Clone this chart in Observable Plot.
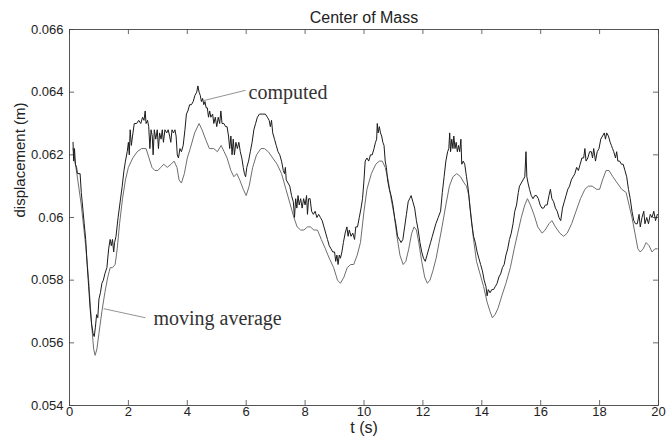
<!DOCTYPE html>
<html>
<head>
<meta charset="utf-8">
<script src="https://cdn.jsdelivr.net/npm/d3@7"></script>
<script src="https://cdn.jsdelivr.net/npm/@observablehq/plot@0.6"></script>
<style>
  html, body { margin: 0; padding: 0; background: #fff; }
</style>
</head>
<body>
<div id="chart"></div>
<script>
// Center-of-mass displacement (m) against time (s)
const computedT = [
  0.12, 0.14, 0.17, 0.20, 0.24, 0.27, 0.36, 0.40, 0.45, 0.50, 0.55, 0.60, 0.65, 0.70, 0.75, 0.80, 0.84, 0.88, 0.92, 0.96,
  1.00, 1.05, 1.10, 1.15, 1.20, 1.27, 1.33, 1.38, 1.42, 1.46, 1.50, 1.53, 1.58, 1.65, 1.72, 1.79, 1.85, 1.90, 1.96,
  2.00, 2.03, 2.06, 2.10, 2.14, 2.20, 2.28, 2.35, 2.42, 2.48, 2.53, 2.57, 2.60, 2.65, 2.69, 2.73, 2.77, 2.81, 2.84, 2.88, 2.93, 2.98,
  3.02, 3.06, 3.11, 3.15, 3.19, 3.24, 3.30, 3.35, 3.40, 3.44, 3.48, 3.53, 3.58, 3.62, 3.66, 3.70, 3.75, 3.80, 3.86, 3.92, 3.97,
  4.02, 4.08, 4.14, 4.20, 4.26, 4.32, 4.36, 4.40, 4.44, 4.48, 4.52, 4.56, 4.60, 4.64, 4.68, 4.72, 4.76, 4.80, 4.86, 4.90, 4.95,
  5.00, 5.05, 5.10, 5.14, 5.18, 5.24, 5.30, 5.35, 5.40, 5.44, 5.48, 5.52, 5.56, 5.60, 5.65, 5.70, 5.75, 5.80, 5.85, 5.90, 5.94, 5.98,
  6.02, 6.08, 6.14, 6.20, 6.26, 6.32, 6.38, 6.45, 6.55, 6.65, 6.72, 6.78, 6.82, 6.86, 6.90, 6.96,
  7.02, 7.08, 7.14, 7.20, 7.26, 7.30, 7.33, 7.36, 7.42, 7.48, 7.54, 7.60, 7.64, 7.68, 7.72, 7.76, 7.80, 7.85, 7.90, 7.95,
  8.00, 8.05, 8.08, 8.12, 8.17, 8.22, 8.28, 8.34, 8.40, 8.46, 8.52, 8.58, 8.64, 8.70, 8.76, 8.82, 8.88, 8.94,
  9.00, 9.04, 9.08, 9.12, 9.16, 9.20, 9.25, 9.30, 9.36, 9.42, 9.46, 9.50, 9.56, 9.62, 9.68, 9.72, 9.78, 9.84, 9.90, 9.95,
  10.00, 10.04, 10.10, 10.16, 10.22, 10.28, 10.34, 10.39, 10.43, 10.45, 10.48, 10.52, 10.56, 10.60, 10.64, 10.68, 10.72, 10.76, 10.80, 10.86, 10.92, 10.98,
  11.04, 11.08, 11.14, 11.20, 11.26, 11.32, 11.38, 11.44, 11.50, 11.55, 11.60, 11.66, 11.72, 11.78, 11.84, 11.90, 11.96,
  12.02, 12.08, 12.14, 12.20, 12.26, 12.32, 12.38, 12.44, 12.52, 12.60, 12.66, 12.72, 12.78, 12.84, 12.88, 12.91, 12.94, 12.98,
  13.02, 13.05, 13.09, 13.13, 13.17, 13.21, 13.25, 13.29, 13.32, 13.37, 13.42, 13.48, 13.54, 13.60, 13.66, 13.72, 13.78, 13.84, 13.90, 13.96,
  14.02, 14.08, 14.14, 14.18, 14.22, 14.28, 14.34, 14.40, 14.46, 14.52, 14.58, 14.64, 14.70, 14.76, 14.82, 14.88, 14.94,
  15.00, 15.06, 15.12, 15.18, 15.24, 15.28, 15.34, 15.40, 15.46, 15.50, 15.53, 15.57, 15.62, 15.68, 15.74, 15.80, 15.86, 15.92, 15.98,
  16.04, 16.10, 16.16, 16.22, 16.28, 16.33, 16.38, 16.44, 16.50, 16.56, 16.62, 16.68, 16.74, 16.80, 16.86, 16.92, 16.98,
  17.04, 17.10, 17.16, 17.22, 17.28, 17.34, 17.40, 17.46, 17.50, 17.54, 17.60, 17.66, 17.72, 17.76, 17.80, 17.86, 17.92, 17.98,
  18.04, 18.10, 18.16, 18.20, 18.24, 18.30, 18.36, 18.40, 18.44, 18.48, 18.54, 18.58, 18.62, 18.68, 18.74, 18.80, 18.86, 18.92, 18.98,
  19.04, 19.10, 19.16, 19.22, 19.28, 19.34, 19.38, 19.44, 19.50, 19.54, 19.60, 19.66, 19.72, 19.78, 19.84, 19.90, 19.96
];
const computedV = [
  0.0624, 0.0618, 0.0622, 0.0617, 0.0616, 0.0614, 0.0614, 0.0608, 0.0603, 0.0598, 0.0593, 0.0585, 0.0578, 0.0571, 0.0566, 0.0563, 0.0562, 0.0565, 0.0569, 0.0568,
  0.0574, 0.0576, 0.0579, 0.0580, 0.0582, 0.0584, 0.0590, 0.0593, 0.0591, 0.0593, 0.0589, 0.0592, 0.0594, 0.0600, 0.0605, 0.0610, 0.0615, 0.0618, 0.0621,
  0.0624, 0.0620, 0.0628, 0.0623, 0.0626, 0.0630, 0.0630, 0.0631, 0.0630, 0.0632, 0.0631, 0.0634, 0.0630, 0.0631, 0.0629, 0.0622, 0.0628, 0.0626, 0.0620, 0.0628, 0.0625, 0.0628,
  0.0622, 0.0627, 0.0625, 0.0628, 0.0624, 0.0628, 0.0627, 0.0628, 0.0626, 0.0624, 0.0628, 0.0627, 0.0628, 0.0626, 0.0620, 0.0619, 0.0622, 0.0621, 0.0623, 0.0628, 0.0633,
  0.0634, 0.0636, 0.0636, 0.0637, 0.0639, 0.0640, 0.0642, 0.0640, 0.0639, 0.0637, 0.0638, 0.0636, 0.0637, 0.0635, 0.0635, 0.0632, 0.0634, 0.0632, 0.0633, 0.0630, 0.0632,
  0.0629, 0.0632, 0.0630, 0.0634, 0.0630, 0.0630, 0.0629, 0.0629, 0.0626, 0.0622, 0.0626, 0.0620, 0.0625, 0.0620, 0.0624, 0.0622, 0.0624, 0.0621, 0.0619, 0.0616, 0.0614, 0.0613,
  0.0616, 0.0618, 0.0621, 0.0624, 0.0628, 0.0630, 0.0632, 0.0633, 0.0633, 0.0633, 0.0632, 0.0631, 0.0629, 0.0631, 0.0627, 0.0625,
  0.0623, 0.0621, 0.0620, 0.0618, 0.0615, 0.0614, 0.0616, 0.0612, 0.0611, 0.0610, 0.0607, 0.0605, 0.0600, 0.0606, 0.0603, 0.0607, 0.0604, 0.0606, 0.0603, 0.0606,
  0.0604, 0.0607, 0.0601, 0.0606, 0.0606, 0.0602, 0.0601, 0.0602, 0.0600, 0.0601, 0.0600, 0.0599, 0.0597, 0.0595, 0.0593, 0.0591, 0.0590, 0.0589,
  0.0589, 0.0586, 0.0588, 0.0585, 0.0588, 0.0587, 0.0589, 0.0592, 0.0595, 0.0597, 0.0594, 0.0596, 0.0594, 0.0595, 0.0593, 0.0597, 0.0597, 0.0600, 0.0603, 0.0606,
  0.0612, 0.0618, 0.0619, 0.0618, 0.0620, 0.0620, 0.0622, 0.0624, 0.0625, 0.0630, 0.0627, 0.0629, 0.0627, 0.0626, 0.0624, 0.0623, 0.0618, 0.0616, 0.0612, 0.0609, 0.0607, 0.0604,
  0.0600, 0.0598, 0.0594, 0.0593, 0.0592, 0.0593, 0.0597, 0.0601, 0.0605, 0.0606, 0.0607, 0.0605, 0.0603, 0.0599, 0.0596, 0.0592, 0.0589,
  0.0587, 0.0586, 0.0588, 0.0590, 0.0592, 0.0594, 0.0596, 0.0598, 0.0600, 0.0602, 0.0608, 0.0613, 0.0618, 0.0621, 0.0622, 0.0627, 0.0621, 0.0625,
  0.0622, 0.0626, 0.0622, 0.0624, 0.0621, 0.0623, 0.0621, 0.0625, 0.0617, 0.0618, 0.0617, 0.0613, 0.0609, 0.0603, 0.0598, 0.0594, 0.0592, 0.0589, 0.0587, 0.0585,
  0.0583, 0.0580, 0.0578, 0.0575, 0.0577, 0.0576, 0.0577, 0.0577, 0.0578, 0.0579, 0.0581, 0.0582, 0.0584, 0.0585, 0.0588, 0.0590, 0.0593,
  0.0595, 0.0598, 0.0602, 0.0604, 0.0608, 0.0610, 0.0611, 0.0612, 0.0613, 0.0621, 0.0613, 0.0611, 0.0609, 0.0607, 0.0606, 0.0607, 0.0607, 0.0606, 0.0604,
  0.0603, 0.0603, 0.0604, 0.0604, 0.0607, 0.0609, 0.0606, 0.0605, 0.0603, 0.0602, 0.0600, 0.0599, 0.0603, 0.0605, 0.0607, 0.0609, 0.0610,
  0.0612, 0.0613, 0.0614, 0.0616, 0.0615, 0.0617, 0.0619, 0.0619, 0.0622, 0.0618, 0.0619, 0.0621, 0.0621, 0.0619, 0.0622, 0.0618, 0.0621, 0.0622,
  0.0625, 0.0626, 0.0627, 0.0625, 0.0627, 0.0626, 0.0624, 0.0623, 0.0622, 0.0621, 0.0619, 0.0621, 0.0618, 0.0618, 0.0617, 0.0617, 0.0615, 0.0613, 0.0609,
  0.0606, 0.0602, 0.0599, 0.0598, 0.0598, 0.0601, 0.0597, 0.0600, 0.0602, 0.0598, 0.0600, 0.0598, 0.0601, 0.0600, 0.0602, 0.0599, 0.0601
];

const averageT = [
  0.12, 0.25, 0.40, 0.55, 0.65, 0.75, 0.82, 0.87, 0.93, 1.00, 1.10, 1.20, 1.30, 1.38, 1.46, 1.55, 1.62, 1.70, 1.80, 1.90,
  2.00, 2.15, 2.30, 2.45, 2.60, 2.70, 2.80, 2.90, 3.00, 3.10, 3.20, 3.32, 3.45, 3.55, 3.65, 3.72, 3.80, 3.90,
  4.00, 4.10, 4.25, 4.40, 4.50, 4.62, 4.75, 4.90, 5.02, 5.15, 5.25, 5.35, 5.48, 5.58, 5.68, 5.78, 5.90,
  6.00, 6.10, 6.22, 6.35, 6.50, 6.62, 6.75, 6.90, 7.05, 7.20, 7.35, 7.50, 7.62, 7.73, 7.85, 7.96,
  8.08, 8.18, 8.30, 8.42, 8.55, 8.69, 8.82, 8.97, 9.10, 9.20, 9.32, 9.43, 9.55, 9.65, 9.77, 9.88,
  10.00, 10.10, 10.25, 10.40, 10.52, 10.62, 10.72, 10.82, 10.92, 11.02, 11.12, 11.22, 11.33, 11.42, 11.52, 11.62, 11.70, 11.78, 11.86, 11.96,
  12.06, 12.15, 12.24, 12.34, 12.45, 12.55, 12.65, 12.78, 12.90, 13.02, 13.15, 13.28, 13.40, 13.48, 13.56, 13.64, 13.72, 13.82, 13.94,
  14.06, 14.18, 14.28, 14.36, 14.45, 14.55, 14.68, 14.82, 14.97, 15.10, 15.22, 15.34, 15.46, 15.55, 15.65, 15.77, 15.90,
  16.05, 16.15, 16.28, 16.38, 16.50, 16.65, 16.78, 16.90, 17.05, 17.20, 17.35, 17.50, 17.62, 17.75, 17.90,
  18.00, 18.10, 18.22, 18.32, 18.45, 18.60, 18.75, 18.90, 19.00, 19.10, 19.20, 19.30, 19.38, 19.48, 19.58, 19.68, 19.78, 19.88, 19.96
];
const averageV = [
  0.0622, 0.0614, 0.0604, 0.0591, 0.0580, 0.0566, 0.0558, 0.0556, 0.0558, 0.0563, 0.0570, 0.0576, 0.0581, 0.0584, 0.0584, 0.0585, 0.0590, 0.0598, 0.0606, 0.0612,
  0.0616, 0.0619, 0.0621, 0.0622, 0.0622, 0.0619, 0.0616, 0.0615, 0.0615, 0.0616, 0.0617, 0.0616, 0.0617, 0.0618, 0.0616, 0.0612, 0.0611, 0.0614,
  0.0619, 0.0622, 0.0627, 0.0630, 0.0628, 0.0625, 0.0622, 0.0622, 0.0621, 0.0623, 0.0621, 0.0619, 0.0615, 0.0613, 0.0614, 0.0612, 0.0609,
  0.0607, 0.0610, 0.0616, 0.0620, 0.0622, 0.0622, 0.0621, 0.0619, 0.0617, 0.0614, 0.0609, 0.0604, 0.0600, 0.0597, 0.0596, 0.0596,
  0.0597, 0.0597, 0.0596, 0.0596, 0.0593, 0.0590, 0.0587, 0.0584, 0.0580, 0.0579, 0.0581, 0.0584, 0.0585, 0.0585, 0.0588, 0.0592,
  0.0602, 0.0609, 0.0614, 0.0617, 0.0618, 0.0618, 0.0616, 0.0612, 0.0606, 0.0601, 0.0594, 0.0588, 0.0585, 0.0586, 0.0590, 0.0595, 0.0597, 0.0596, 0.0592, 0.0586,
  0.0581, 0.0579, 0.0580, 0.0583, 0.0587, 0.0592, 0.0597, 0.0604, 0.0610, 0.0613, 0.0614, 0.0613, 0.0611, 0.0610, 0.0607, 0.0600, 0.0593, 0.0586, 0.0582,
  0.0578, 0.0573, 0.0570, 0.0568, 0.0569, 0.0571, 0.0575, 0.0579, 0.0584, 0.0590, 0.0595, 0.0600, 0.0604, 0.0606, 0.0604, 0.0601, 0.0597,
  0.0595, 0.0596, 0.0598, 0.0599, 0.0597, 0.0595, 0.0594, 0.0595, 0.0598, 0.0602, 0.0606, 0.0609, 0.0610, 0.0610, 0.0609,
  0.0609, 0.0612, 0.0615, 0.0615, 0.0613, 0.0611, 0.0609, 0.0608, 0.0604, 0.0600, 0.0595, 0.0590, 0.0589, 0.0590, 0.0592, 0.0591, 0.0589, 0.0590, 0.0590
];

// Axis ticks
const xTicks = [0, 2, 4, 6, 8, 10, 12, 14, 16, 18, 20];
const yTicks = [0.054, 0.056, 0.058, 0.06, 0.062, 0.064, 0.066];

// Callout labels: text anchor point and the point on the curve the leader reaches
const calloutText = ["computed", "moving average"];
const calloutTextT = [6.08, 2.85];
const calloutTextV = [0.0640, 0.05678];
const calloutLineT = [4.55, 1.16];
const calloutLineV = [0.06373, 0.05709];
const calloutEndT = [5.98, 2.58];
const calloutEndV = [0.06406, 0.05680];

const computed = computedT.map((t, i) => ({t, v: computedV[i]}));
const average = averageT.map((t, i) => ({t, v: averageV[i]}));
const callouts = calloutText.map((label, i) => ({
  label,
  tx: calloutTextT[i], ty: calloutTextV[i],
  x1: calloutLineT[i], y1: calloutLineV[i],
  x2: calloutEndT[i], y2: calloutEndV[i]
}));

const W = 666, H = 440;
const mL = 69, mR = 8, mT = 29, mB = 35;
const frameW = W - mL - mR, frameH = H - mT - mB;
const TICK = 5;
const axisColor = "#444";

const chart = Plot.plot({
  width: W,
  height: H,
  marginLeft: mL,
  marginRight: mR,
  marginTop: mT,
  marginBottom: mB,
  style: {fontFamily: "'Liberation Sans', Arial, sans-serif", fontSize: "13px", color: "#222", background: "#fff"},
  x: {domain: [0, 20]},
  y: {domain: [0.054, 0.066]},
  marks: [
    // tick labels
    Plot.axisX({ticks: xTicks, tickSize: 0, tickPadding: 1, label: null, tickFormat: d => String(d), fontSize: 13}),
    Plot.axisY({ticks: yTicks, tickSize: 0, tickPadding: 6, label: null, tickFormat: d => String(d), fontSize: 13}),
    // inward tick marks on all four sides
    Plot.tickX(xTicks, {x: d => d, insetTop: frameH - TICK, stroke: axisColor, strokeWidth: 0.8}),
    Plot.tickX(xTicks, {x: d => d, insetBottom: frameH - TICK, stroke: axisColor, strokeWidth: 0.8}),
    Plot.tickY(yTicks, {y: d => d, insetRight: frameW - TICK, stroke: axisColor, strokeWidth: 0.8}),
    Plot.tickY(yTicks, {y: d => d, insetLeft: frameW - TICK, stroke: axisColor, strokeWidth: 0.8}),
    Plot.frame({stroke: axisColor, strokeWidth: 0.9}),
    // series
    Plot.line(average, {x: "t", y: "v", stroke: "#6e6e6e", strokeWidth: 1}),
    Plot.line(computed, {x: "t", y: "v", stroke: "#1c1c1c", strokeWidth: 1}),
    // callouts
    Plot.link(callouts, {x1: "x1", y1: "y1", x2: "x2", y2: "y2", stroke: "#777", strokeWidth: 0.8}),
    Plot.text(callouts, {x: "tx", y: "ty", text: "label", textAnchor: "start", fontFamily: "'Liberation Serif', 'Times New Roman', serif", fontSize: 20, fill: "#333"}),
    // title and axis titles
    Plot.text(["Center of Mass"], {frameAnchor: "top", dy: -18, fontSize: 16, fill: "#222"}),
    Plot.text(["t (s)"], {frameAnchor: "bottom", dy: 27, fontSize: 16, fill: "#222"}),
    Plot.text(["displacement (m)"], {frameAnchor: "left", dx: -49, rotate: -90, fontSize: 15, fill: "#222"})
  ]
});

document.getElementById("chart").appendChild(chart);
</script>
</body>
</html>
